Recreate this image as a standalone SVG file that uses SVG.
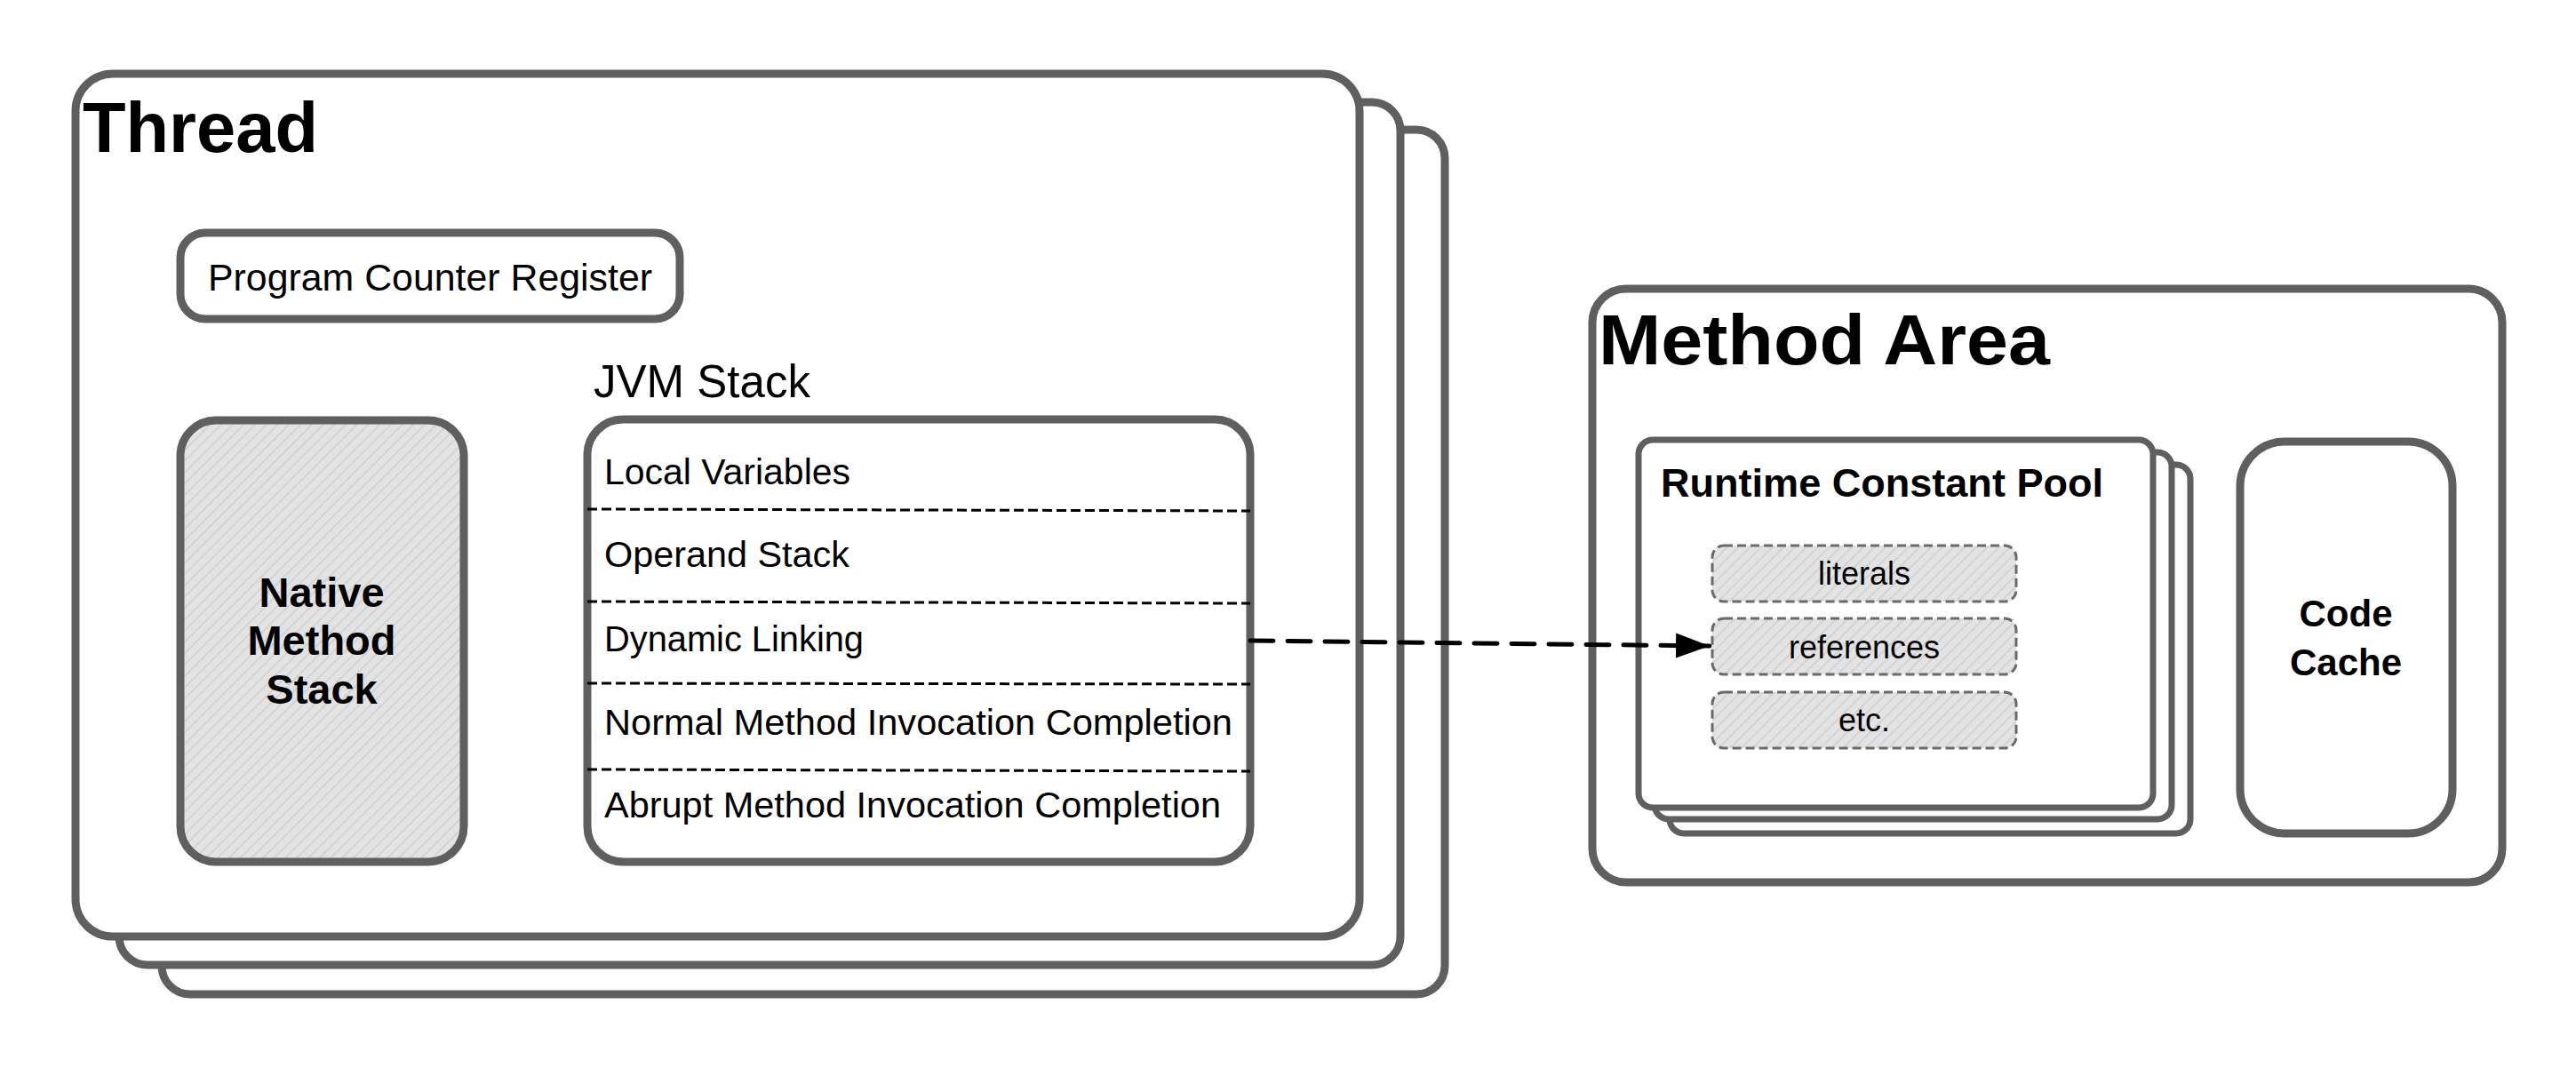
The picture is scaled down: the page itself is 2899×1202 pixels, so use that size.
<svg xmlns="http://www.w3.org/2000/svg" width="2899" height="1202" viewBox="0 0 2899 1202">
<defs>
<pattern id="hatch" patternUnits="userSpaceOnUse" width="9" height="9" patternTransform="rotate(45)">
<rect width="9" height="9" fill="#e3e3e3"/>
<line x1="1" y1="0" x2="1" y2="9" stroke="#d3d3d3" stroke-width="2"/>
</pattern>
<marker id="arrow" markerUnits="userSpaceOnUse" markerWidth="42" markerHeight="32" refX="38" refY="15" orient="auto">
<path d="M0,1 L38,15 L0,29 Z" fill="#000"/>
</marker>
<style>
.box{fill:#fff;stroke:#5f5f5f;stroke-width:9;stroke-linejoin:round}
.sbox{fill:#fff;stroke:#5f5f5f;stroke-width:7;stroke-linejoin:round}
.gray{fill:url(#hatch);stroke:#5f5f5f;stroke-width:9}
.item{fill:url(#hatch);stroke:#6a6a6a;stroke-width:3;stroke-dasharray:10 5}
.sep{stroke:#000;stroke-width:3;stroke-dasharray:11 5;fill:none}
.title{font-family:"Liberation Sans",Arial,sans-serif;font-weight:bold;font-size:80px;fill:#000}
.bold{font-family:"Liberation Sans",Arial,sans-serif;font-weight:bold;fill:#000}
.txt{font-family:"Liberation Sans",Arial,sans-serif;fill:#000}
</style>
</defs>
<rect width="2899" height="1202" fill="#fff"/>

<g id="thread">
<rect class="box" x="182" y="146" width="1444" height="973" rx="32"/>
<rect class="box" x="134" y="115" width="1442" height="971" rx="32"/>
<rect class="box" x="85" y="83" width="1445" height="971" rx="42"/>
<text class="title" x="93" y="171" textLength="265" lengthAdjust="spacingAndGlyphs">Thread</text>
</g>

<g id="pcr">
<rect class="box" x="203" y="262" width="562" height="97" rx="28"/>
<text class="txt" x="234" y="327" font-size="42" textLength="500" lengthAdjust="spacingAndGlyphs">Program Counter Register</text>
</g>

<g id="native-method-stack">
<rect class="gray" x="203" y="473" width="319" height="497" rx="40"/>
<text class="bold" font-size="47" text-anchor="middle" x="362" y="683">Native</text>
<text class="bold" font-size="47" text-anchor="middle" x="362" y="737">Method</text>
<text class="bold" font-size="47" text-anchor="middle" x="362" y="792">Stack</text>
</g>

<g id="jvm-stack">
<text class="txt" x="668" y="447" font-size="52" textLength="244" lengthAdjust="spacingAndGlyphs">JVM Stack</text>
<rect class="box" x="661" y="472" width="746" height="498" rx="40"/>
<line class="sep" x1="661" y1="573" x2="1407" y2="575"/>
<line class="sep" x1="661" y1="677" x2="1407" y2="679"/>
<line class="sep" x1="661" y1="769" x2="1407" y2="770"/>
<line class="sep" x1="661" y1="866" x2="1407" y2="868"/>
<text class="txt" x="680" y="545" font-size="40" textLength="277" lengthAdjust="spacingAndGlyphs">Local Variables</text>
<text class="txt" x="680" y="638" font-size="40" textLength="276" lengthAdjust="spacingAndGlyphs">Operand Stack</text>
<text class="txt" x="680" y="733" font-size="40" textLength="292" lengthAdjust="spacingAndGlyphs">Dynamic Linking</text>
<text class="txt" x="680" y="827" font-size="40" textLength="707" lengthAdjust="spacingAndGlyphs">Normal Method Invocation Completion</text>
<text class="txt" x="680" y="920" font-size="40" textLength="694" lengthAdjust="spacingAndGlyphs">Abrupt Method Invocation Completion</text>
</g>

<g id="method-area">
<rect class="box" x="1792" y="325" width="1024" height="668" rx="38"/>
<text class="title" x="1799" y="410" textLength="508" lengthAdjust="spacingAndGlyphs">Method Area</text>
</g>

<g id="runtime-constant-pool">
<rect class="sbox" x="1879" y="523" width="586" height="415" rx="16"/>
<rect class="sbox" x="1862" y="509" width="582" height="413" rx="16"/>
<rect class="sbox" x="1844" y="495" width="579" height="414" rx="16"/>
<text class="bold" x="1869" y="559" font-size="44" textLength="498" lengthAdjust="spacingAndGlyphs">Runtime Constant Pool</text>
</g>

<g id="literals">
<rect class="item" x="1927" y="614" width="342" height="63" rx="13"/>
<text class="txt" x="2098" y="658" font-size="36" text-anchor="middle">literals</text>
</g>
<g id="references">
<rect class="item" x="1927" y="696" width="342" height="63" rx="13"/>
<text class="txt" x="2098" y="741" font-size="36" text-anchor="middle">references</text>
</g>
<g id="etc">
<rect class="item" x="1927" y="779" width="342" height="63" rx="13"/>
<text class="txt" x="2098" y="823" font-size="36" text-anchor="middle">etc.</text>
</g>

<g id="code-cache">
<rect class="box" x="2521" y="497" width="239" height="441" rx="50"/>
<text class="bold" font-size="42" text-anchor="middle" x="2640" y="705">Code</text>
<text class="bold" font-size="42" text-anchor="middle" x="2640" y="760">Cache</text>
</g>

<g id="connectors">
<path d="M1407,721 L1924,727" fill="none" stroke="#000" stroke-width="5" stroke-dasharray="26 16" stroke-linecap="round" marker-end="url(#arrow)"/>
</g>
</svg>
